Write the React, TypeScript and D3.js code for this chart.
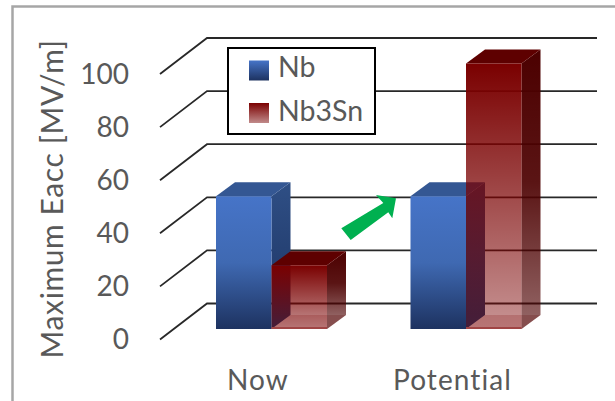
import React from "react";
import * as d3 from "d3";

const categories = ["Now", "Potential"];
const seriesNames = ["Nb", "Nb3Sn"];
const nbValues = [50, 50];
const nb3snValues = [24, 100];
const yTicks = [0, 20, 40, 60, 80, 100];
const yTitle = "Maximum Eacc [MV/m]";

const W = 615, H = 401;
const DX = 19, DY = -14;
const y = d3.scaleLinear().domain([0, 100]).range([329, 63.5]);
const wallY = (v: number) => y(v) - 25.5;
const frontAxisY = (v: number) => y(v) + 10.5;
const x0 = d3.scaleBand().domain(categories).range([174.25, 563.25]);
const x1 = d3.scaleBand().domain(seriesNames).range([0, x0.bandwidth()]).paddingOuter(0.7523);

function pts(p: [number, number][]) {
  return d3.line()(p) + "Z";
}

function Bar({ cat, series, value, pre }: { cat: string; series: string; value: number; pre: string }) {
  const xl = x0(cat)! + x1(series)!;
  const xr = xl + x1.bandwidth();
  const yt = y(value), yb = y(0);
  const red = pre === "red";
  const gid = (s: string) => `${pre}-${s}-${cat}`;
  return (
    <g>
      <defs>
        <linearGradient id={gid("f")} gradientUnits="userSpaceOnUse" x1="0" x2="0" y1={yt} y2={yb}>
          {red ? (
            <>
              <stop offset="0" stopColor="#7a0000" stopOpacity={1} />
              <stop offset="1" stopColor="#7a0000" stopOpacity={0.42} />
            </>
          ) : (
            <>
              <stop offset="0" stopColor="#4674c8" />
              <stop offset="0.5" stopColor="#3f69b2" />
              <stop offset="1" stopColor="#1d3260" />
            </>
          )}
        </linearGradient>
        <linearGradient id={gid("s")} gradientUnits="userSpaceOnUse" x1="0" x2="0" y1={yt + DY} y2={yb + DY}>
          {red ? (
            <>
              <stop offset="0" stopColor="#4c0000" stopOpacity={1} />
              <stop offset="0.5" stopColor="#4c0000" stopOpacity={0.92} />
              <stop offset="1" stopColor="#4c0000" stopOpacity={0.62} />
            </>
          ) : (
            <>
              <stop offset="0" stopColor="#2f4f85" />
              <stop offset="1" stopColor="#1d3565" />
            </>
          )}
        </linearGradient>
      </defs>
      {red && (
        <path d={pts([[xl, yb], [xr, yb], [xr + DX, yb + DY], [xl + DX, yb + DY]])} fill="#7a0000" fillOpacity={0.2} />
      )}
      <path d={pts([[xr, yt], [xr + DX, yt + DY], [xr + DX, yb + DY], [xr, yb]])} fill={`url(#${gid("s")})`} />
      <path d={pts([[xl, yt], [xr, yt], [xr + DX, yt + DY], [xl + DX, yt + DY]])} fill={red ? "#5e0000" : "#345793"} />
      <rect x={xl} y={yt} width={xr - xl} height={yb - yt} fill={`url(#${gid("f")})`} />
      {red && <line x1={xl} x2={xr} y1={yb - 1} y2={yb - 1} stroke="#a04545" strokeWidth={2} />}
    </g>
  );
}

export default function App() {
  const font = "Lato, 'Open Sans', sans-serif";
  const tc = "#595959";
  return (
    <svg width={W} height={H} style={{ position: "absolute", left: 0, top: 0, background: "#fff" }} fontFamily={font}>
      <defs>
        <linearGradient id="lg-b" x1="0" x2="0" y1="0" y2="1">
          <stop offset="0" stopColor="#4674c8" />
          <stop offset="1" stopColor="#1d3260" />
        </linearGradient>
        <linearGradient id="lg-r" x1="0" x2="0" y1="0" y2="1">
          <stop offset="0" stopColor="#7a0000" />
          <stop offset="1" stopColor="#c08a8a" />
        </linearGradient>
      </defs>
      <path d="M12.5,401V6.5H615" fill="none" stroke="#a6a6a6" strokeWidth={2.5} />
      {yTicks.map((t) => (
        <g key={t}>
          <path
            d={d3.line()([[160, frontAxisY(t)], [207, wallY(t)], [597, wallY(t)]])!}
            fill="none"
            stroke="#111"
            strokeWidth={1.8}
            strokeOpacity={0.9}
          />
          <text x={129} y={y(t) + 20} textAnchor="end" fontSize={28} fill={tc}>{t}</text>
        </g>
      ))}
      {categories.map((c, i) => (
        <g key={c}>
          <Bar cat={c} series="Nb" value={nbValues[i]} pre="blue" />
          <Bar cat={c} series="Nb3Sn" value={nb3snValues[i]} pre="red" />
        </g>
      ))}
      {categories.map((c) => (
        <text key={c} x={x0(c)! + x0.bandwidth() / 2 - 13.5} y={390} textAnchor="middle" fontSize={28} letterSpacing={1.1} fill={tc}>{c}</text>
      ))}
      <text transform="translate(63,199) rotate(-90)" textAnchor="middle" fontSize={30} letterSpacing={0.6} fill={tc}>{yTitle}</text>
      <rect x={228} y={48} width={147} height={86} fill="#fff" stroke="#000" strokeWidth={2} />
      <rect x={249} y={60.5} width={20} height={20} fill="url(#lg-b)" />
      <rect x={249} y={103} width={20} height={20} fill="url(#lg-r)" />
      <text x={278} y={77} fontSize={28.5} fill={tc}>{seriesNames[0]}</text>
      <text x={278} y={121} fontSize={28.5} fill={tc}>{seriesNames[1]}</text>
      <path d="M341.3,228.3 L383.3,203 L376,195 L396,198.3 L392.3,218.3 L388.3,212.3 L350.7,240Z" fill="#00b050" />
    </svg>
  );
}
